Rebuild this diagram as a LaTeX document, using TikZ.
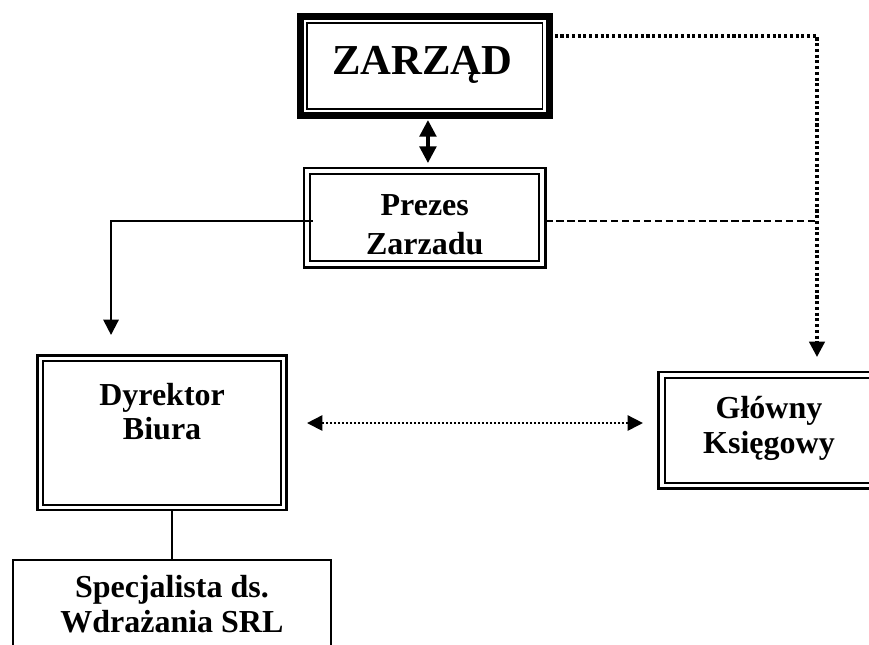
\documentclass[tikz,border=0pt]{standalone}
\usepackage{fontspec}
\setmainfont{Liberation Serif}
\usetikzlibrary{arrows.meta,positioning}

\begin{document}
\begin{tikzpicture}[x=0.75pt, y=-0.75pt, >={Triangle[length=11.5pt,width=11.5pt]},
	box/.style={draw, inner sep=0pt, outer sep=0pt, line width=2.1pt},
	txt/.style={anchor=north, inner sep=0pt, align=center, font=\bfseries\fontsize{24}{26}\selectfont},
	dotline/.style={line width=2.4pt, dash pattern=on 2.3pt off 2pt},
	fineline/.style={line width=1.3pt, dash pattern=on 1.3pt off 1.7pt},
	dashline/.style={line width=1.2pt, dash pattern=on 5.5pt off 2.7pt}]
	\useasboundingbox (0,0) rectangle (869,644);
	\path (817,36) coordinate (K);
	% ramki
	\node[box, line width=5.25pt, minimum width=186.4pt, minimum height=74.1pt] (zarzad) at (424.75,66.1) {};
	\node[box, minimum width=181.1pt, minimum height=74.6pt] (prezes) at (424.75,217.75) {};
	\node[box, minimum width=186.6pt, minimum height=115.9pt] (dyrektor) at (162.1,432.75) {};
	\node[box, minimum width=165.5pt, minimum height=87.6pt] (glowny) at (769,430.4) {};
	\node[box, line width=1.5pt, minimum width=238.4pt, minimum height=66pt] (specjalista) at (171.9,603.5) {};
	\foreach \n/\d in {zarzad/4.9pt, prezes/4.6pt, dyrektor/4pt, glowny/4.5pt}
	\draw[line width=1.3pt] ([xshift=\d, yshift=-\d]\n.north west) rectangle ([xshift=-\d, yshift=\d]\n.south east);
	% napisy
	\node[txt, font=\bfseries\fontsize{32}{34}\selectfont] (zarzad-t) at ([xshift=-1.7pt, yshift=-21.8pt]zarzad.north) {ZARZĄD};
	\node[txt, font=\bfseries\fontsize{24}{29.25}\selectfont] (prezes-t) at ([yshift=-19.4pt]prezes.north) {Prezes\\Zarzadu};
	\node[txt] (dyrektor-t) at ([yshift=-20.4pt]dyrektor.north) {Dyrektor\\Biura};
	\node[txt] (glowny-t) at ([yshift=-17.9pt]glowny.north) {Główny\\Księgowy};
	\node[txt] (specjalista-t) at ([yshift=-11.9pt]specjalista.north) {Specjalista ds.\\Wdrażania SRL};
	% polaczenia
	\path ([yshift=-2.4pt]prezes.east) coordinate (p1) (p1 -| K) coordinate (p2)
	([yshift=7.3pt]dyrektor.east) coordinate (d1) (d1 -| glowny.west) coordinate (g1);
	\draw[line width=2.6pt, {Triangle[length=12.5pt,width=12.5pt]}-{Triangle[length=12.5pt,width=12.5pt]}, shorten <=3.4pt, shorten >=3.75pt] ([xshift=2.4pt]zarzad.south) -- ([xshift=2.4pt]prezes.north);
	\draw[line width=1.6pt, ->, shorten >=15.4pt] ([xshift=6.75pt, yshift=-2.4pt]prezes.west) -| ([xshift=-38.3pt]dyrektor.north);
	\draw[dashline] (p1) -- (p2);
	\draw[dotline, ->, shorten >=11.25pt] (zarzad.east |- K) -- (K) -- (K |- glowny.north);
	\draw[fineline, <->, shorten <=15.4pt, shorten >=11.8pt] (d1) -- (g1);
	\draw[line width=1.3pt] (dyrektor.south -| specjalista.north) -- (specjalista.north);
\end{tikzpicture}
\end{document}
